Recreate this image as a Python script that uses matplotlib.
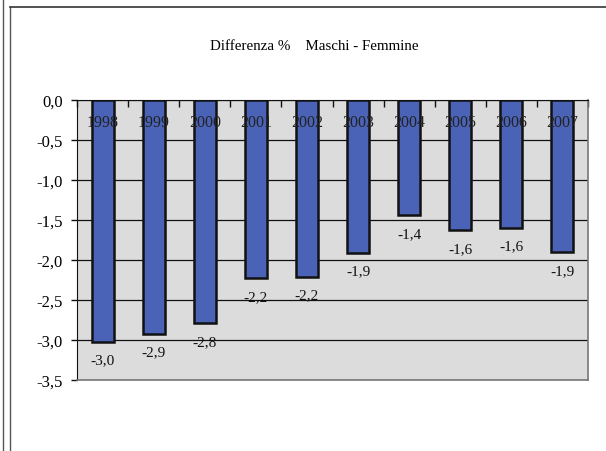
import matplotlib.pyplot as plt
import numpy as np
from matplotlib.lines import Line2D

# data
years = ['1998', '1999', '2000', '2001', '2002', '2003', '2004', '2005', '2006', '2007']
diff = [-3.02, -2.92, -2.79, -2.23, -2.21, -1.91, -1.44, -1.63, -1.60, -1.90]
diff_labels = ['-3,0', '-2,9', '-2,8', '-2,2', '-2,2', '-1,9', '-1,4', '-1,6', '-1,6', '-1,9']
y_ticks = [0.0, -0.5, -1.0, -1.5, -2.0, -2.5, -3.0, -3.5]
y_tick_labels = ['0,0', '-0,5', '-1,0', '-1,5', '-2,0', '-2,5', '-3,0', '-3,5']

plt.rcParams['font.family'] = ['Liberation Serif', 'DejaVu Serif']

fig = plt.figure(figsize=(6.06, 4.52), dpi=100)
ax = fig.add_axes([77 / 606, 1 - 381 / 452, 511 / 606, 280.5 / 452])

# outer frame of the scanned page
fig.add_artist(Line2D([3 / 606, 3 / 606], [0, 1], color='#555555', lw=1.0))
fig.add_artist(Line2D([10 / 606, 10 / 606], [0, 1 - 8 / 452], color='#555555', lw=1.0))
fig.add_artist(Line2D([10 / 606, 1], [1 - 8 / 452, 1 - 8 / 452], color='#333333', lw=1.2))

ax.set_facecolor('#dcdcdc')
x = np.arange(len(years))
ax.bar(x, diff, width=0.43, color='#4a63b6', edgecolor='#111111', linewidth=1.8, zorder=3)

ax.set_xlim(-0.5, len(years) - 0.5)
ax.set_ylim(-3.5, 0.0)
ax.set_yticks(y_ticks)
ax.set_yticklabels(y_tick_labels, fontsize=12)
ax.yaxis.grid(True, color='#111111', linewidth=0.9, zorder=1)
ax.set_axisbelow(True)

# category ticks along the zero line at the top
ax.xaxis.tick_top()
ax.set_xticks(np.arange(len(years) + 1) - 0.5)
ax.set_xticklabels([])
ax.tick_params(axis='x', direction='in', length=5, color='#111111', width=1)
ax.tick_params(axis='y', direction='out', length=4, color='#111111', width=1, pad=6)

for s in ['right', 'bottom']:
    ax.spines[s].set_color('#777777')
    ax.spines[s].set_linewidth(1.2)
ax.spines['left'].set_color('#111111')
ax.spines['top'].set_color('#111111')

for i, (yr, v, lab) in enumerate(zip(years, diff, diff_labels)):
    ax.text(i, -0.28, yr, ha='center', va='center', fontsize=11.5, color='#222222', zorder=4)
    ax.text(i, v - 0.23, lab, ha='center', va='center', fontsize=11, color='#111111', zorder=4)

fig.text(314 / 606, 1 - 47 / 452, 'Differenza %    Maschi - Femmine',
         ha='center', va='center', fontsize=10.8)

fig.savefig('out.png', dpi=100)
